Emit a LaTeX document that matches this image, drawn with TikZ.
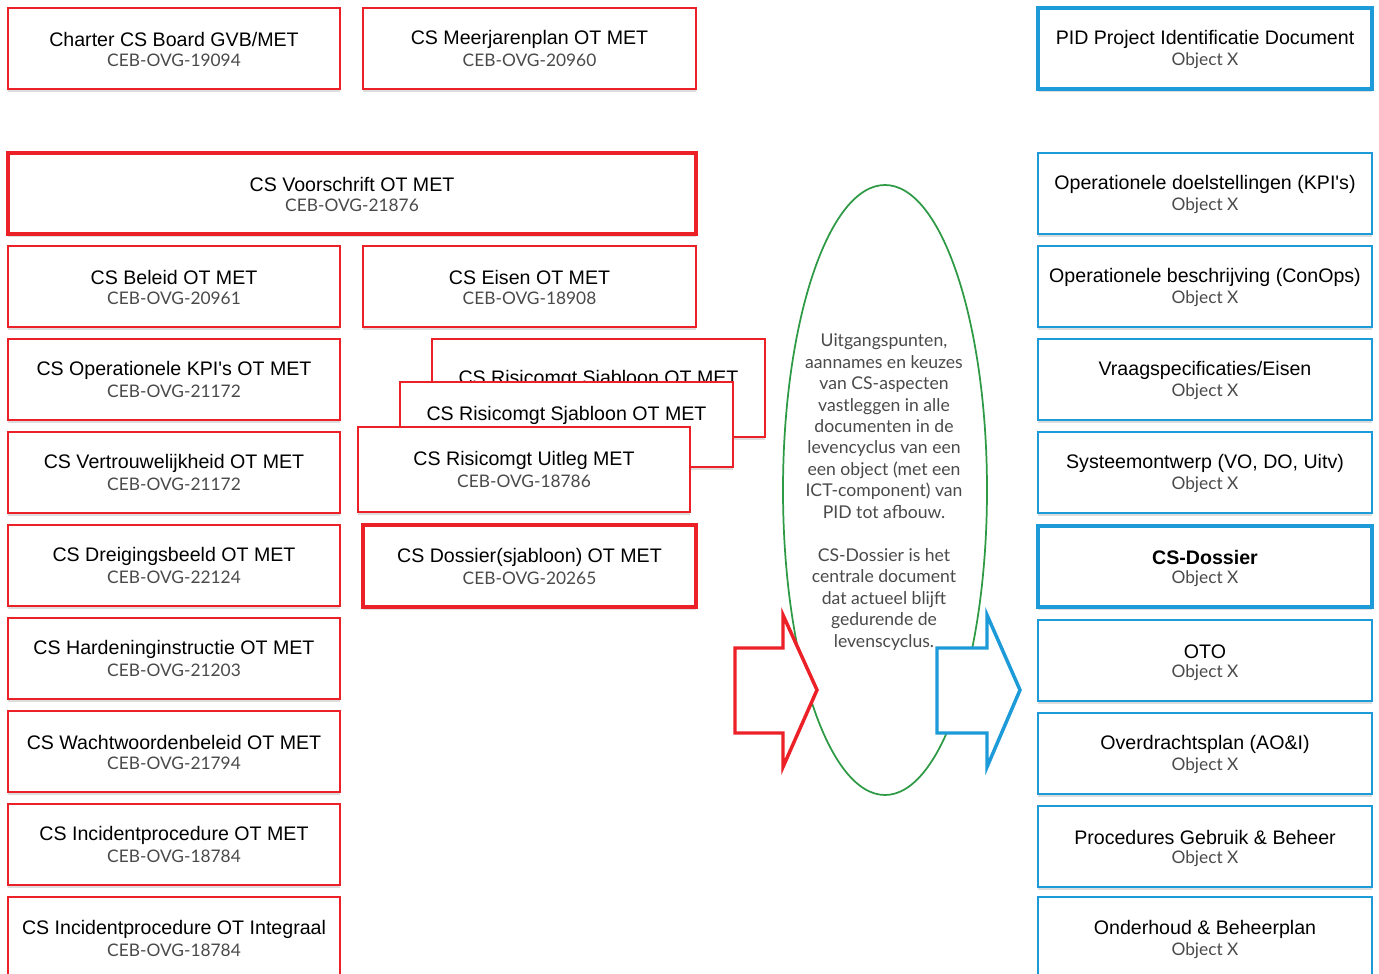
\documentclass[tikz,border=0pt]{standalone}
\usepackage{fontspec}
\setmainfont{Liberation Sans}[Ligatures=TeXOff]
\newfontfamily\subfont{Lato}
\usetikzlibrary{fit,shadows}
\definecolor{dred}{HTML}{EC2127}
\definecolor{dblue}{HTML}{1C9BD8}
\definecolor{dgreen}{HTML}{2E9A45}
\definecolor{dgray}{HTML}{4A4A4A}
\tikzset{
  box/.style={inner sep=0pt, fill=white, line width=1.5pt,
    drop shadow={shadow xshift=0pt, shadow yshift=-2pt, opacity=0.22, fill=black!60}},
  redbox/.style={box, draw=dred},
  redthick/.style={box, draw=dred, line width=3pt},
  bluebox/.style={box, draw=dblue},
  bluethick/.style={box, draw=dblue, line width=3pt},
  ttl/.style={font=\fontsize{14.7}{16}\selectfont, text=black, inner sep=0pt},
  sub/.style={font=\subfont\fontsize{13.0}{16}\selectfont, text=dgray, inner sep=0pt},
  bigarrow/.style={line width=2.6pt, fill=white, line join=miter},
}
\newcommand\doc[8]{%
  \node[#1, fit={(#3,#4)(#5,#6)}] (#2) {};
  \node[ttl] (#2-t) at ([yshift=6.6pt]#2.center) {#7};
  \node[sub] (#2-s) at ([yshift=-9.0pt]#2.center) {#8};
}
\begin{document}
\begin{tikzpicture}[x=0.75pt,y=-0.75pt]
\useasboundingbox (0,0) rectangle (1379,974);
\clip (0,0) rectangle (1379,974);
\fill[white] (0,0) rectangle (1379,974);

% left columns
\doc{redbox}{charter}{8}{8}{340}{89}{Charter CS Board GVB/MET}{CEB-OVG-19094}
\doc{redbox}{meerjaren}{363}{8}{696}{89}{CS Meerjarenplan OT MET}{CEB-OVG-20960}
\doc{redthick}{voorschrift}{8}{153}{696}{234}{CS Voorschrift OT MET}{CEB-OVG-21876}
\doc{redbox}{beleid}{8}{246}{340}{327}{CS Beleid OT MET}{CEB-OVG-20961}
\doc{redbox}{eisen}{363}{246}{696}{327}{CS Eisen OT MET}{CEB-OVG-18908}
\doc{redbox}{kpi}{8}{339}{340}{420}{CS Operationele KPI's OT MET}{CEB-OVG-21172}
\doc{redbox}{vertrouw}{8}{432}{340}{513}{CS Vertrouwelijkheid OT MET}{CEB-OVG-21172}
\doc{redbox}{dreiging}{8}{525}{340}{606}{CS Dreigingsbeeld OT MET}{CEB-OVG-22124}
\doc{redbox}{harden}{8}{618}{340}{699}{CS Hardeninginstructie OT MET}{CEB-OVG-21203}
\doc{redbox}{wachtw}{8}{711}{340}{792}{CS Wachtwoordenbeleid OT MET}{CEB-OVG-21794}
\doc{redbox}{incident}{8}{804}{340}{885}{CS Incidentprocedure OT MET}{CEB-OVG-18784}
\doc{redbox}{integraal}{8}{897}{340}{980}{CS Incidentprocedure OT Integraal}{CEB-OVG-18784}

% stacked risk boxes
\node[redbox, fit={(432,339)(765,437)}] (risk1) {};
\node[ttl] (risk1-t) at ([yshift=6.6pt]risk1.center) {CS Risicomgt Sjabloon OT MET};
\node[redbox, fit={(400,382)(733,467)}] (risk2) {};
\node[ttl] (risk2-t) at ([yshift=6.6pt]risk2.center) {CS Risicomgt Sjabloon OT MET};
\doc{redbox}{uitleg}{358}{427}{690}{512}{CS Risicomgt Uitleg MET}{CEB-OVG-18786}
\doc{redthick}{dossier}{363}{525}{696}{607}{CS Dossier(sjabloon) OT MET}{CEB-OVG-20265}

% right column
\doc{bluethick}{pid}{1038}{8}{1372}{89}{PID Project Identificatie Document}{Object X}
\doc{bluebox}{doel}{1038}{153}{1372}{234}{Operationele doelstellingen (KPI's)}{Object X}
\doc{bluebox}{conops}{1038}{246}{1372}{327}{Operationele beschrijving (ConOps)}{Object X}
\doc{bluebox}{vraag}{1038}{339}{1372}{420}{Vraagspecificaties/Eisen}{Object X}
\doc{bluebox}{systeem}{1038}{432}{1372}{513}{Systeemontwerp (VO, DO, Uitv)}{Object X}
\doc{bluethick}{csdossier}{1038}{526}{1372}{607}{\bfseries CS-Dossier}{Object X}
\doc{bluebox}{oto}{1038}{620}{1372}{701}{OTO}{Object X}
\doc{bluebox}{overdracht}{1038}{713}{1372}{794}{Overdrachtsplan (AO\&I)}{Object X}
\doc{bluebox}{procedures}{1038}{806}{1372}{887}{Procedures Gebruik \& Beheer}{Object X}
\doc{bluebox}{onderhoud}{1038}{897}{1372}{980}{Onderhoud \& Beheerplan}{Object X}

% central ellipse
\draw[dgreen, line width=1.3pt] (885,490) ellipse [x radius=102, y radius=305];
\node[font=\subfont\fontsize{13.2}{16.1}\selectfont, text=dgray, align=center, inner sep=0pt] (uitgang) at (884,492) {%
Uitgangspunten,\\aannames en keuzes\\van CS-aspecten\\vastleggen in alle\\documenten in de\\levencyclus van een\\een object (met een\\ICT-component) van\\PID tot afbouw.\\[16.1pt]%
CS-Dossier is het\\centrale document\\dat actueel blijft\\gedurende de\\levenscyclus.};

% big arrows
\draw[bigarrow, draw=dred] (735,648) -- (783,648) -- (783,615) -- (817,690) -- (783,767) -- (783,733) -- (735,733) -- cycle;
\draw[bigarrow, draw=dblue] (937,648) -- (987,648) -- (987,615) -- (1020,690) -- (987,767) -- (987,733) -- (937,733) -- cycle;
\end{tikzpicture}
\end{document}
